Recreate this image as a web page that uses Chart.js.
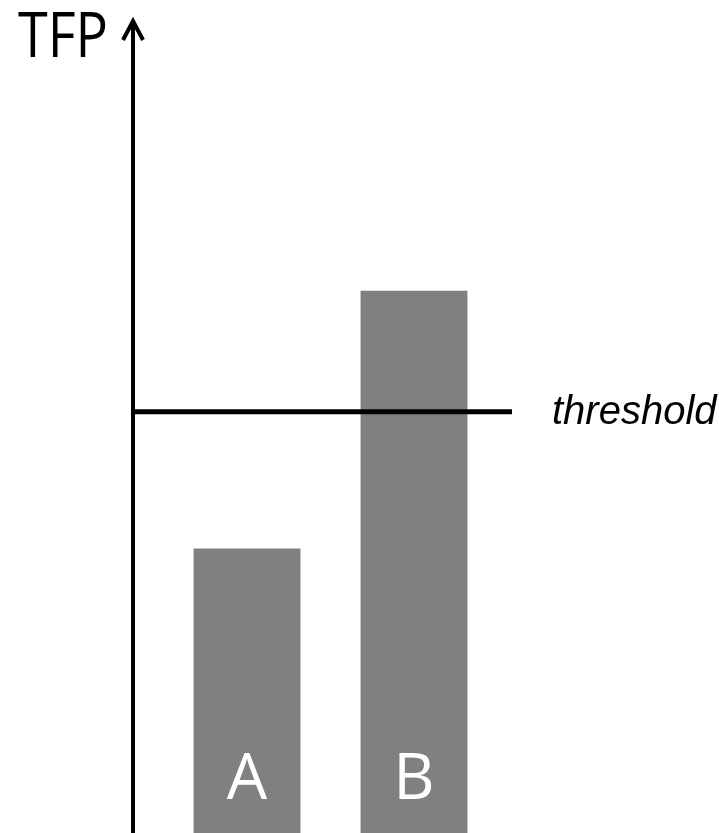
<!DOCTYPE html>
<html>
<head>
<meta charset="utf-8">
<script src="https://cdn.jsdelivr.net/npm/chart.js@4"></script>
<style>
  html, body { margin: 0; padding: 0; background: #fff; }
  canvas { display: block; }
</style>
</head>
<body>
<canvas id="tfpchart" width="719" height="833"></canvas>
<script>
const categories = ["A", "B"];
const tfpValues = [3.5, 6.67];
const thresholdValue = 5.18;
const yMax = 10;
const axisTitle = "TFP";
const thresholdLabel = "threshold";

// axis, arrow, threshold line and texts drawn on top of the bars
const annotations = {
  id: "annotations",
  afterDatasetsDraw(chart) {
    const { ctx, scales } = chart;
    const axisX = 133;
    const yTh = scales.y.getPixelForValue(thresholdValue);

    ctx.save();
    ctx.strokeStyle = "#000";
    ctx.lineCap = "butt";

    // y axis
    ctx.lineWidth = 4;
    ctx.beginPath();
    ctx.moveTo(axisX, 22);
    ctx.lineTo(axisX, chart.height);
    ctx.stroke();

    // arrow head
    ctx.lineWidth = 4;
    ctx.lineJoin = "miter";
    ctx.beginPath();
    ctx.moveTo(axisX - 10, 40);
    ctx.lineTo(axisX, 21);
    ctx.lineTo(axisX + 10, 40);
    ctx.stroke();

    // threshold line
    ctx.lineWidth = 5;
    ctx.beginPath();
    ctx.moveTo(axisX, yTh);
    ctx.lineTo(512, yTh);
    ctx.stroke();

    // texts
    ctx.fillStyle = "#000";
    ctx.textBaseline = "alphabetic";
    ctx.textAlign = "left";
    ctx.font = "62px 'Open Sans'";
    ctx.fillText(axisTitle, 18, 57, 90);

    ctx.font = "italic 40px 'Liberation Sans'";
    ctx.fillText(thresholdLabel, 552, yTh + 12);

    // bar labels
    ctx.fillStyle = "#fff";
    ctx.textAlign = "center";
    ctx.font = "64px 'Open Sans'";
    chart.getDatasetMeta(0).data.forEach((bar, i) => {
      ctx.fillText(categories[i], bar.x, 799);
    });
    ctx.restore();
  },
};

const ctx = document.getElementById("tfpchart").getContext("2d");

const tfpChart = new Chart(ctx, {
  type: "bar",
  data: {
    labels: categories,
    datasets: [
      {
        data: tfpValues,
        backgroundColor: "#808080",
        borderWidth: 0,
        categoryPercentage: 1,
        barPercentage: 0.64,
      },
    ],
  },
  options: {
    responsive: false,
    animation: false,
    layout: {
      padding: { left: 163.5, right: 221.5, top: 20, bottom: 0 },
    },
    plugins: {
      legend: { display: false },
      tooltip: { enabled: false },
    },
    scales: {
      x: { display: false, offset: true },
      y: { display: false, min: 0, max: yMax },
    },
  },
  plugins: [annotations],
});
</script>
</body>
</html>
